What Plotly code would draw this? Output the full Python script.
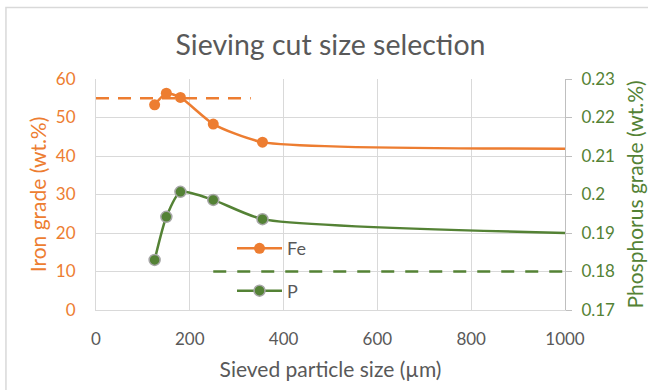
import plotly.graph_objects as go

# Sieved particle sizes (µm) and measured grades
size_um = [125, 150, 180, 250, 355, 1000]
fe_grade = [53.3, 56.3, 55.2, 48.3, 43.6, 41.9]
p_grade = [0.183, 0.1942, 0.2007, 0.1986, 0.1936, 0.190]

# Target grade reference lines
fe_target_x = [0, 330]
fe_target_y = [55, 55]
p_target_x = [250, 1000]
p_target_y = [0.18, 0.18]

ORANGE = "#ED7D31"
GREEN = "#548235"
GREY_TXT = "#595959"
GRID = "#D9D9D9"
FONT = "Lato, 'Open Sans', sans-serif"
CLEAR = "rgba(0,0,0,0)"


def point_colors(color):
    # the 1000 µm end point carries the line only, no visible marker
    return [color] * (len(size_um) - 1) + [CLEAR]


fig = go.Figure()

fig.add_trace(go.Scatter(
    x=fe_target_x, y=fe_target_y, mode="lines",
    line=dict(color=ORANGE, width=2.5, dash="13px,9px"),
    showlegend=False, hoverinfo="skip", yaxis="y",
))
fig.add_trace(go.Scatter(
    x=p_target_x, y=p_target_y, mode="lines",
    line=dict(color=GREEN, width=2.5, dash="13px,11px"),
    showlegend=False, hoverinfo="skip", yaxis="y2",
))
fig.add_trace(go.Scatter(
    x=size_um, y=fe_grade, name="Fe", mode="lines+markers",
    line=dict(color=ORANGE, width=2.5, shape="spline", smoothing=0.6),
    marker=dict(color=point_colors(ORANGE), size=11, line=dict(width=0)),
    legendgroup="fe", yaxis="y",
))
fig.add_trace(go.Scatter(
    x=size_um, y=p_grade, name="P", mode="lines+markers",
    line=dict(color=GREEN, width=2.5, shape="spline", smoothing=0.6),
    marker=dict(color=point_colors(GREEN), size=11,
                line=dict(width=1.5, color=point_colors("#A6A6A6"))),
    legendgroup="p", yaxis="y2",
))

fig.update_layout(
    width=648, height=390,
    margin=dict(l=96, r=83, t=79, b=80),
    paper_bgcolor="white", plot_bgcolor="white",
    font=dict(family=FONT, size=17, color=GREY_TXT),
    title=dict(text="Sieving cut size selection", x=0.51, xanchor="center",
               y=0.885, yanchor="middle",
               font=dict(family=FONT, size=28.5, color=GREY_TXT)),
    xaxis=dict(
        range=[0, 1000], dtick=200, showgrid=True, gridcolor=GRID, gridwidth=1,
        showline=True, linecolor=GRID, linewidth=1, mirror=False,
        zeroline=False, ticks="", ticklabelstandoff=14, automargin=False,
        tickfont=dict(size=17, color=GREY_TXT),
        title=dict(text="Sieved particle size (µm)", font=dict(size=21, color=GREY_TXT), standoff=13),
    ),
    yaxis=dict(
        range=[0, 60], dtick=10, showgrid=True, gridcolor=GRID, gridwidth=1,
        showline=True, linecolor=GRID, linewidth=1, zeroline=False,
        ticks="", ticklabelstandoff=16, automargin=False,
        tickfont=dict(size=17, color=ORANGE),
        title=dict(text="Iron grade (wt.%)", font=dict(size=21, color=ORANGE), standoff=3),
    ),
    yaxis2=dict(
        range=[0.17, 0.23], dtick=0.01, overlaying="y", side="right",
        showgrid=False, showline=True, linecolor="#BFBFBF", linewidth=1,
        ticks="outside", ticklen=6, tickcolor="#BFBFBF", zeroline=False,
        ticklabelstandoff=6, automargin=False,
        tickformat="~g", tickfont=dict(size=17, color=GREEN),
        title=dict(text="Phosphorus grade (wt.%)", font=dict(size=21, color=GREEN), standoff=14),
    ),
    legend=dict(
        x=0.29, y=0.346, xanchor="left", yanchor="top",
        bgcolor="rgba(0,0,0,0)", tracegroupgap=16,
        font=dict(size=18, color=GREY_TXT), itemwidth=45,
    ),
    shapes=[dict(type="rect", xref="paper", yref="paper",
                 x0=-0.192, y0=-0.35, x1=1.3, y1=1.31,
                 line=dict(color=GRID, width=1.5), layer="below")],
)

fig.write_html("out.html")
